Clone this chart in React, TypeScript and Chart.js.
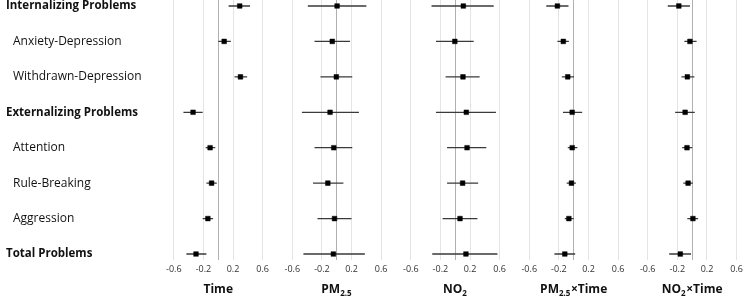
import React, { useEffect, useRef } from "react";
import { Chart, registerables, ScatterController } from "chart.js";

Chart.register(...registerables);

// keep the chart area flush with the canvas edges (no automatic point-overflow padding)
(ScatterController as any).prototype.getMaxOverflow = function () {
  return 0;
};

// ---------- data ----------
const OUTCOMES = [
  "Internalizing Problems",
  "Anxiety-Depression",
  "Withdrawn-Depression",
  "Externalizing Problems",
  "Attention",
  "Rule-Breaking",
  "Aggression",
  "Total Problems",
];
const HEADER_ROWS = [true, false, false, true, false, false, false, true];

const X_TICKS = [-0.6, -0.2, 0, 0.2, 0.6];

const TITLE_MAIN = ["Time", "PM", "NO", "PM", "NO"];
const TITLE_SUB = ["", "2.5", "2", "2.5", "2"];
const TITLE_TAIL = ["", "", "", "×Time", "×Time"];

const TIME_EST = [0.29, 0.08, 0.3, -0.34, -0.11, -0.09, -0.14, -0.3];
const TIME_LO = [0.14, 0.0, 0.22, -0.47, -0.17, -0.16, -0.21, -0.43];
const TIME_HI = [0.43, 0.17, 0.39, -0.21, -0.04, -0.02, -0.07, -0.16];

const PM25_EST = [0.005, -0.06, -0.005, -0.09, -0.04, -0.12, -0.03, -0.045];
const PM25_LO = [-0.39, -0.3, -0.22, -0.47, -0.3, -0.32, -0.26, -0.45];
const PM25_HI = [0.4, 0.18, 0.21, 0.3, 0.21, 0.09, 0.2, 0.38];

const NO2_EST = [0.11, -0.005, 0.105, 0.15, 0.16, 0.1, 0.065, 0.145];
const NO2_LO = [-0.32, -0.26, -0.13, -0.26, -0.11, -0.11, -0.17, -0.31];
const NO2_HI = [0.52, 0.25, 0.33, 0.55, 0.42, 0.31, 0.3, 0.57];

const PM25T_EST = [-0.22, -0.14, -0.08, -0.02, -0.02, -0.03, -0.065, -0.12];
const PM25T_LO = [-0.37, -0.22, -0.16, -0.145, -0.08, -0.095, -0.12, -0.26];
const PM25T_HI = [-0.07, -0.065, 0.005, 0.115, 0.05, 0.03, 0.0, 0.02];

const NO2T_EST = [-0.18, -0.03, -0.065, -0.095, -0.07, -0.055, 0.01, -0.16];
const NO2T_LO = [-0.33, -0.105, -0.145, -0.23, -0.135, -0.12, -0.065, -0.31];
const NO2T_HI = [-0.03, 0.06, 0.03, 0.035, 0.0, 0.01, 0.08, -0.015];

const PANEL_EST = [TIME_EST, PM25_EST, NO2_EST, PM25T_EST, NO2T_EST];
const PANEL_LO = [TIME_LO, PM25_LO, NO2_LO, PM25T_LO, NO2T_LO];
const PANEL_HI = [TIME_HI, PM25_HI, NO2_HI, PM25T_HI, NO2T_HI];

const X_MIN = [-0.8, -0.8, -0.8, -0.8, -0.8];
const X_MAX = [0.8, 0.8, 0.8, 0.8, 0.7];

const FONT = '"Open Sans", "DejaVu Sans", sans-serif';

const labelPlugin = {
  id: "forestLabels",
  afterDraw(chart: any) {
    const ctx = chart.ctx;
    const ys = chart.scales.y;
    ctx.save();
    ctx.textBaseline = "middle";
    ctx.textAlign = "left";
    ctx.fillStyle = "#111";
    OUTCOMES.forEach((name, i) => {
      const py = ys.getPixelForValue(i);
      ctx.font = HEADER_ROWS[i] ? "bold 11.5px " + FONT : "12px " + FONT;
      ctx.fillText(name, HEADER_ROWS[i] ? 6 : 13, py);
    });
    // panel titles with subscripts
    ctx.textBaseline = "alphabetic";
    const mainFont = "bold 12px " + FONT;
    const subFont = "bold 8px " + FONT;
    const baseY = 293;
    TITLE_MAIN.forEach((main, k) => {
      const s = chart.scales["x" + k];
      const cx = s.getPixelForValue(0);
      ctx.font = mainFont;
      const w1 = ctx.measureText(main).width;
      const w3 = ctx.measureText(TITLE_TAIL[k]).width;
      ctx.font = subFont;
      const w2 = TITLE_SUB[k] ? ctx.measureText(TITLE_SUB[k]).width + 0.5 : 0;
      let x = cx - (w1 + w2 + w3) / 2;
      ctx.font = mainFont;
      ctx.fillStyle = "#111";
      ctx.fillText(main, x, baseY);
      x += w1;
      if (TITLE_SUB[k]) {
        ctx.font = subFont;
        ctx.fillText(TITLE_SUB[k], x, baseY + 3);
        x += w2;
      }
      if (TITLE_TAIL[k]) {
        ctx.font = mainFont;
        ctx.fillText(TITLE_TAIL[k], x, baseY);
      }
    });
    ctx.restore();
  },
};

export default function App() {
  const ref = useRef<HTMLCanvasElement | null>(null);

  useEffect(() => {
    if (!ref.current) return;
    const datasets: any[] = [];
    const scales: any = {
      y: {
        type: "linear",
        reverse: true,
        min: -0.169,
        max: 7.169,
        position: "left",
        ticks: { display: false },
        grid: { display: false },
        border: { display: false },
        afterFit: (s: any) => {
          s.width = 159;
          s.paddingTop = 0;
          s.paddingBottom = 0;
        },
      },
    };
    PANEL_EST.forEach((est, k) => {
      const id = "x" + k;
      const ci: any[] = [];
      est.forEach((_, i) => {
        ci.push({ x: PANEL_LO[k][i], y: i });
        ci.push({ x: PANEL_HI[k][i], y: i });
        ci.push({ x: null, y: null });
      });
      datasets.push({
        type: "scatter",
        data: est.map((v, i) => ({ x: v, y: i })),
        xAxisID: id,
        yAxisID: "y",
        pointStyle: "rect",
        pointRadius: 3.3,
        backgroundColor: "#000",
        borderColor: "#000",
        borderWidth: 0.5,
        order: 0,
      });
      datasets.push({
        type: "scatter",
        data: ci,
        xAxisID: id,
        yAxisID: "y",
        showLine: true,
        spanGaps: false,
        pointRadius: 0,
        borderColor: "#3a3a3a",
        borderWidth: 1.3,
        order: 1,
      });
      scales[id] = {
        type: "linear",
        position: "bottom",
        stack: "panels",
        stackWeight: X_MAX[k] - X_MIN[k],
        min: X_MIN[k],
        max: X_MAX[k],
        afterBuildTicks: (s: any) => {
          s.ticks = X_TICKS.map((v) => ({ value: v }));
        },
        afterFit: (s: any) => {
          s.height = 36;
          s.paddingLeft = 0;
          s.paddingRight = 0;
        },
        ticks: {
          autoSkip: false,
          maxRotation: 0,
          minRotation: 0,
          padding: 4,
          color: "#333",
          font: { family: FONT, size: 9 },
          callback: (v: any) => (v === 0 ? "" : Number(v).toFixed(1)),
        },
        grid: {
          drawTicks: false,
          color: (c: any) => (c.tick && c.tick.value === 0 ? "#b0b0b0" : "#e4e4e4"),
          lineWidth: 1,
        },
        border: { display: false },
      };
    });

    const chart = new Chart(ref.current, {
      type: "scatter",
      data: { datasets },
      options: {
        animation: false,
        responsive: false,
        devicePixelRatio: 1,
        layout: { padding: 0 },
        plugins: {
          legend: { display: false },
          tooltip: { enabled: false },
        },
        scales,
      } as any,
      plugins: [labelPlugin],
    });
    return () => chart.destroy();
  }, []);

  return (
    <div style={{ position: "absolute", left: 0, top: 0, width: 744, height: 296, background: "#fff" }}>
      <canvas ref={ref} width={744} height={296} style={{ display: "block" }} />
    </div>
  );
}
